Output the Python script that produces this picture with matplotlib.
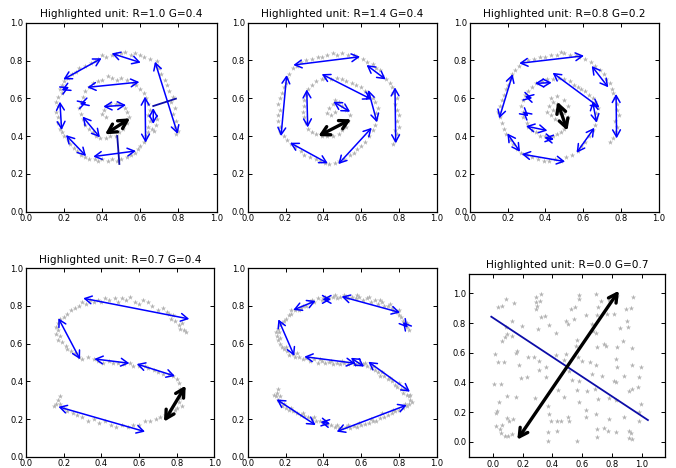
import matplotlib
matplotlib.use("Agg")
import matplotlib.pyplot as plt
from matplotlib.patches import FancyArrowPatch

W, H = 676, 468

titles = ["Highlighted unit: R=1.0 G=0.4", "Highlighted unit: R=1.4 G=0.4",
          "Highlighted unit: R=0.8 G=0.2", "Highlighted unit: R=0.7 G=0.4",
          "", "Highlighted unit: R=0.0 G=0.7"]

# ---------------- panel 1 (spiral) ----------------
p1_pts = [(0.79,0.41),(0.80,0.43),(0.78,0.45),(0.79,0.48),(0.77,0.52),(0.78,0.55),(0.76,0.58),(0.77,0.61),
 (0.75,0.64),(0.74,0.67),(0.73,0.70),(0.71,0.73),(0.70,0.76),(0.68,0.78),(0.69,0.80),(0.65,0.81),(0.62,0.82),
 (0.60,0.83),(0.57,0.84),(0.55,0.83),(0.52,0.845),(0.50,0.84),(0.47,0.835),(0.45,0.83),(0.42,0.82),(0.40,0.83),
 (0.38,0.81),(0.36,0.80),(0.34,0.79),(0.31,0.77),(0.28,0.76),(0.26,0.74),(0.24,0.73),(0.22,0.71),(0.20,0.69),
 (0.19,0.67),(0.18,0.65),(0.19,0.63),(0.17,0.61),(0.16,0.58),(0.17,0.56),(0.16,0.53),(0.17,0.50),(0.17,0.47),
 (0.18,0.44),(0.19,0.42),(0.20,0.40),(0.22,0.38),(0.23,0.36),(0.25,0.34),(0.27,0.32),(0.29,0.30),(0.31,0.29),
 (0.33,0.28),(0.36,0.28),(0.38,0.27),(0.40,0.28),(0.43,0.27),(0.45,0.28),(0.48,0.27),(0.50,0.28),(0.53,0.29),
 (0.55,0.30),(0.57,0.31),(0.59,0.33),(0.60,0.35),(0.62,0.37),(0.63,0.40),(0.64,0.42),(0.64,0.45),(0.65,0.48),
 (0.64,0.51),(0.65,0.54),(0.64,0.57),(0.63,0.60),(0.62,0.63),(0.60,0.65),(0.58,0.67),(0.56,0.68),(0.53,0.70),
 (0.50,0.71),(0.48,0.70),(0.45,0.71),(0.43,0.72),(0.40,0.70),(0.38,0.69),(0.35,0.68),(0.33,0.66),(0.31,0.64),
 (0.30,0.61),(0.29,0.58),(0.28,0.55),(0.29,0.52),(0.30,0.49),(0.31,0.46),(0.33,0.44),(0.35,0.42),(0.37,0.40),
 (0.39,0.39),(0.42,0.39),(0.44,0.40),(0.47,0.40),(0.49,0.42),(0.51,0.44),(0.53,0.47),(0.54,0.50),(0.53,0.53),
 (0.52,0.55),(0.49,0.57),(0.47,0.57),(0.44,0.57),(0.42,0.56),(0.41,0.54),(0.40,0.52),(0.42,0.50),(0.67,0.43),
 (0.68,0.46),(0.69,0.49),(0.66,0.44)]
p1_arrows = [(0.196,0.701,0.397,0.813),(0.450,0.839,0.602,0.790),(0.677,0.795,0.796,0.412),
 (0.322,0.659,0.595,0.687),(0.187,0.643,0.226,0.661),(0.283,0.569,0.318,0.580),(0.178,0.583,0.187,0.433),
 (0.406,0.557,0.525,0.565),(0.297,0.504,0.388,0.394),(0.625,0.610,0.628,0.366),(0.668,0.549,0.668,0.465),
 (0.353,0.292,0.577,0.322),(0.210,0.406,0.315,0.295)]
p1_lines = [(0.668,0.560,0.787,0.599),(0.479,0.401,0.490,0.253)]
p1_black = (0.415,0.410,0.546,0.495)

# ---------------- panel 2 (spiral) ----------------
p2_pts = [(0.77,0.36),(0.78,0.38),(0.79,0.41),(0.78,0.43),(0.80,0.45),(0.79,0.48),(0.80,0.51),(0.79,0.54),
 (0.78,0.57),(0.79,0.60),(0.77,0.63),(0.76,0.66),(0.75,0.68),(0.73,0.70),(0.71,0.72),(0.70,0.75),(0.68,0.76),
 (0.66,0.78),(0.63,0.79),(0.61,0.81),(0.58,0.82),(0.56,0.83),(0.53,0.83),(0.50,0.84),(0.47,0.83),(0.45,0.84),
 (0.42,0.83),(0.39,0.82),(0.37,0.82),(0.34,0.81),(0.31,0.80),(0.28,0.79),(0.26,0.77),(0.24,0.76),(0.22,0.73),
 (0.21,0.71),(0.20,0.68),(0.19,0.66),(0.18,0.63),(0.17,0.60),(0.16,0.57),(0.17,0.54),(0.16,0.51),(0.16,0.48),
 (0.17,0.45),(0.17,0.42),(0.19,0.40),(0.21,0.38),(0.23,0.36),(0.25,0.34),(0.28,0.32),(0.30,0.30),(0.33,0.29),
 (0.36,0.28),(0.38,0.27),(0.41,0.26),(0.43,0.25),(0.46,0.26),(0.48,0.27),(0.51,0.28),(0.54,0.30),(0.56,0.31),
 (0.58,0.33),(0.60,0.35),(0.62,0.37),(0.64,0.40),(0.66,0.43),(0.67,0.46),(0.68,0.49),(0.68,0.52),(0.69,0.55),
 (0.67,0.58),(0.66,0.60),(0.64,0.62),(0.62,0.64),(0.60,0.66),(0.57,0.67),(0.55,0.68),(0.52,0.69),(0.50,0.70),
 (0.47,0.71),(0.44,0.70),(0.41,0.71),(0.39,0.70),(0.36,0.69),(0.34,0.67),(0.32,0.65),(0.31,0.62),(0.30,0.59),
 (0.30,0.56),(0.29,0.53),(0.30,0.50),(0.31,0.47),(0.32,0.44),(0.34,0.42),(0.36,0.41),(0.39,0.40),(0.42,0.40),
 (0.45,0.40),(0.48,0.41),(0.50,0.43),(0.52,0.45),(0.53,0.48),(0.54,0.51),(0.52,0.54),(0.50,0.56),(0.48,0.58),
 (0.46,0.59),(0.45,0.57),(0.43,0.55),(0.42,0.52),(0.44,0.51),(0.46,0.53)]
p2_arrows = [(0.241,0.776,0.593,0.820),(0.628,0.776,0.729,0.700),(0.778,0.658,0.782,0.362),
 (0.206,0.723,0.176,0.400),(0.312,0.647,0.317,0.446),(0.391,0.728,0.655,0.594),(0.637,0.644,0.683,0.473),
 (0.453,0.582,0.541,0.529),(0.224,0.365,0.423,0.256),(0.479,0.252,0.655,0.444)]
p2_lines = []
p2_black = (0.373,0.400,0.546,0.489)

# ---------------- panel 3 (spiral) ----------------
p3_pts = [(0.74,0.37),(0.76,0.39),(0.77,0.42),(0.78,0.45),(0.77,0.48),(0.79,0.51),(0.78,0.54),(0.78,0.57),
 (0.77,0.60),(0.76,0.63),(0.75,0.65),(0.74,0.68),(0.72,0.70),(0.71,0.73),(0.69,0.75),(0.66,0.77),(0.64,0.79),
 (0.61,0.81),(0.58,0.82),(0.56,0.83),(0.53,0.83),(0.50,0.84),(0.48,0.845),(0.46,0.83),(0.43,0.83),(0.40,0.82),
 (0.37,0.82),(0.34,0.81),(0.31,0.80),(0.28,0.79),(0.26,0.77),(0.24,0.75),(0.22,0.73),(0.21,0.70),(0.20,0.67),
 (0.19,0.65),(0.18,0.62),(0.17,0.59),(0.16,0.56),(0.15,0.53),(0.16,0.50),(0.17,0.47),(0.18,0.44),(0.19,0.41),
 (0.21,0.38),(0.23,0.36),(0.25,0.33),(0.27,0.31),(0.30,0.30),(0.33,0.29),(0.36,0.28),(0.39,0.27),(0.42,0.27),
 (0.45,0.28),(0.48,0.27),(0.51,0.29),(0.54,0.30),(0.57,0.32),(0.59,0.35),(0.61,0.37),(0.63,0.40),(0.65,0.43),
 (0.66,0.46),(0.67,0.49),(0.67,0.52),(0.68,0.55),(0.66,0.58),(0.65,0.60),(0.63,0.62),(0.61,0.64),(0.59,0.65),
 (0.57,0.66),(0.55,0.67),(0.53,0.69),(0.50,0.70),(0.47,0.71),(0.44,0.70),(0.41,0.70),(0.38,0.69),(0.35,0.68),
 (0.33,0.66),(0.31,0.64),(0.29,0.62),(0.28,0.59),(0.27,0.56),(0.28,0.53),(0.28,0.50),(0.30,0.47),(0.31,0.45),
 (0.33,0.43),(0.35,0.42),(0.37,0.40),(0.40,0.40),(0.42,0.39),(0.44,0.40),(0.46,0.41),(0.48,0.42),(0.50,0.44),
 (0.51,0.47),(0.52,0.50),(0.50,0.52),(0.48,0.55),(0.46,0.57),(0.44,0.58),(0.42,0.56),(0.41,0.53),(0.43,0.51),
 (0.45,0.49),(0.44,0.54),(0.47,0.52),(0.43,0.60),(0.46,0.61),(0.52,0.56),(0.50,0.59)]
p3_arrows = [(0.261,0.785,0.604,0.825),(0.645,0.771,0.733,0.658),(0.774,0.623,0.777,0.388),
 (0.226,0.728,0.155,0.494),(0.438,0.735,0.686,0.552),(0.650,0.582,0.671,0.471),(0.659,0.444,0.565,0.312),
 (0.345,0.679,0.433,0.683),(0.290,0.610,0.330,0.600),(0.280,0.530,0.310,0.505),(0.297,0.453,0.410,0.429),
 (0.394,0.392,0.445,0.383),(0.198,0.414,0.265,0.317),(0.274,0.305,0.504,0.265)]
p3_lines = []
p3_black = (0.463,0.582,0.516,0.429)

# ---------------- panel 4 (S shape) ----------------
p4_pts = [(0.28,0.80),(0.30,0.82),(0.32,0.81),(0.34,0.83),(0.36,0.82),(0.38,0.83),(0.40,0.82),(0.42,0.84),
 (0.44,0.83),(0.47,0.84),(0.49,0.82),(0.51,0.84),(0.53,0.83),(0.55,0.85),(0.58,0.82),(0.60,0.81),(0.62,0.83),
 (0.65,0.82),(0.67,0.80),(0.70,0.78),(0.73,0.79),(0.75,0.77),(0.76,0.76),(0.78,0.75),(0.77,0.73),(0.79,0.72),
 (0.81,0.70),(0.82,0.68),(0.84,0.67),(0.85,0.66),(0.83,0.71),(0.26,0.79),(0.24,0.78),(0.22,0.76),(0.20,0.74),
 (0.18,0.73),(0.17,0.71),(0.16,0.69),(0.17,0.67),(0.16,0.65),(0.18,0.64),(0.17,0.62),(0.19,0.61),(0.21,0.59),
 (0.22,0.57),(0.24,0.56),(0.26,0.55),(0.28,0.53),(0.30,0.52),(0.33,0.53),(0.36,0.52),(0.38,0.51),(0.41,0.50),
 (0.44,0.51),(0.46,0.50),(0.49,0.50),(0.52,0.49),(0.55,0.50),(0.57,0.48),(0.60,0.48),(0.63,0.48),(0.65,0.47),
 (0.68,0.46),(0.70,0.45),(0.73,0.44),(0.76,0.44),(0.78,0.43),(0.80,0.41),(0.81,0.39),(0.82,0.36),(0.83,0.33),
 (0.82,0.31),(0.81,0.29),(0.83,0.27),(0.80,0.26),(0.79,0.25),(0.77,0.23),(0.74,0.22),(0.71,0.21),(0.69,0.20),
 (0.66,0.19),(0.63,0.19),(0.60,0.17),(0.57,0.17),(0.54,0.16),(0.51,0.17),(0.48,0.16),(0.45,0.17),(0.42,0.19),
 (0.39,0.18),(0.36,0.20),(0.33,0.19),(0.30,0.21),(0.27,0.22),(0.25,0.23),(0.22,0.24),(0.20,0.26),(0.18,0.28),
 (0.16,0.28),(0.17,0.30),(0.18,0.32),(0.15,0.27)]
p4_arrows = [(0.304,0.841,0.867,0.731),(0.172,0.735,0.287,0.517),(0.363,0.519,0.549,0.496),
 (0.588,0.492,0.791,0.428),(0.172,0.265,0.632,0.133)]
p4_lines = []
p4_black = (0.733,0.186,0.848,0.377)

# ---------------- panel 5 (dense S) ----------------
p5_pts = [(0.85,0.67),(0.84,0.69),(0.83,0.70),(0.82,0.72),(0.81,0.74),(0.80,0.75),(0.79,0.77),(0.77,0.78),
 (0.76,0.79),(0.74,0.80),(0.72,0.80),(0.71,0.82),(0.69,0.81),(0.67,0.83),(0.65,0.82),(0.63,0.84),(0.61,0.83),
 (0.59,0.85),(0.57,0.84),(0.55,0.85),(0.53,0.84),(0.51,0.86),(0.49,0.85),(0.47,0.84),(0.45,0.85),(0.43,0.84),
 (0.41,0.85),(0.39,0.83),(0.37,0.84),(0.35,0.82),(0.33,0.82),(0.31,0.80),(0.29,0.80),(0.27,0.78),(0.25,0.78),
 (0.23,0.76),(0.22,0.75),(0.20,0.73),(0.19,0.72),(0.17,0.70),(0.16,0.68),(0.15,0.66),(0.155,0.64),(0.16,0.62),
 (0.17,0.60),(0.18,0.58),(0.19,0.57),(0.21,0.56),(0.22,0.54),(0.24,0.545),(0.25,0.53),(0.27,0.53),(0.29,0.52),
 (0.31,0.525),(0.33,0.51),(0.35,0.52),(0.37,0.50),(0.39,0.51),(0.41,0.50),(0.43,0.505),(0.45,0.49),(0.47,0.50),
 (0.49,0.49),(0.51,0.50),(0.53,0.49),(0.55,0.505),(0.57,0.49),(0.59,0.50),(0.61,0.49),(0.63,0.48),(0.65,0.47),
 (0.67,0.46),(0.69,0.45),(0.70,0.43),(0.72,0.43),(0.74,0.41),(0.76,0.40),(0.78,0.38),(0.79,0.37),(0.81,0.36),
 (0.82,0.34),(0.84,0.33),(0.85,0.32),(0.86,0.30),(0.85,0.28),(0.84,0.27),(0.82,0.26),(0.80,0.25),(0.78,0.24),
 (0.76,0.23),(0.74,0.22),(0.72,0.21),(0.70,0.205),(0.68,0.19),(0.66,0.19),(0.64,0.18),(0.62,0.175),(0.60,0.17),
 (0.58,0.16),(0.56,0.165),(0.54,0.15),(0.52,0.16),(0.50,0.15),(0.48,0.15),(0.46,0.16),(0.44,0.17),(0.42,0.175),
 (0.40,0.18),(0.38,0.19),(0.36,0.19),(0.34,0.20),(0.32,0.21),(0.30,0.215),(0.28,0.22),(0.26,0.23),(0.24,0.24),
 (0.22,0.25),(0.20,0.26),(0.18,0.27),(0.17,0.29),(0.16,0.30),(0.15,0.32),(0.155,0.34),(0.16,0.36),
 (0.84,0.71),(0.80,0.78),(0.75,0.81),(0.70,0.83),(0.64,0.85),(0.58,0.86),(0.52,0.85),(0.46,0.86),(0.40,0.84),
 (0.34,0.83),(0.28,0.79),(0.23,0.78),(0.18,0.71),(0.165,0.66),(0.17,0.63),(0.20,0.58),(0.26,0.55),(0.32,0.53),
 (0.38,0.52),(0.44,0.51),(0.50,0.51),(0.56,0.49),(0.62,0.50),(0.66,0.48),(0.71,0.45),(0.75,0.42),(0.80,0.39),
 (0.83,0.36),(0.86,0.33),(0.87,0.29),(0.83,0.28),(0.77,0.25),(0.71,0.23),(0.65,0.20),(0.59,0.18),(0.53,0.17),
 (0.47,0.17),(0.41,0.19),(0.35,0.21),(0.29,0.23),(0.23,0.26),(0.19,0.28),(0.17,0.32),(0.14,0.33)]
p5_arrows = [(0.241,0.779,0.359,0.827),(0.395,0.835,0.440,0.835),(0.496,0.850,0.805,0.765),
 (0.820,0.715,0.845,0.685),(0.162,0.729,0.246,0.535),(0.299,0.531,0.567,0.496),(0.545,0.525,0.615,0.478),
 (0.637,0.504,0.857,0.345),(0.153,0.304,0.359,0.168),(0.385,0.185,0.435,0.175),(0.470,0.133,0.840,0.274)]
p5_lines = []
p5_black = None

# ---------------- panel 6 (uniform cloud) ----------------
p6_pts = [(0.085,0.962),(0.036,0.906),(0.063,0.917),(0.141,0.933),(0.287,0.973),(0.287,0.939),(0.298,0.917),
 (0.314,0.951),(0.291,0.894),(0.578,0.991),(0.578,0.962),(0.552,0.906),(0.522,0.894),(0.691,0.996),(0.709,0.906),
 (0.724,0.951),(0.780,0.955),(0.836,0.984),(0.944,0.973),(0.897,0.894),(0.926,0.901),(0.769,0.861),(0.814,0.861),
 (0.321,0.843),(0.350,0.849),(0.489,0.816),(0.507,0.793),(0.545,0.827),(0.628,0.856),(0.702,0.856),(0.668,0.793),
 (0.904,0.816),(0.910,0.771),(0.126,0.811),(0.090,0.771),(0.193,0.782),(0.081,0.703),(0.063,0.681),(0.096,0.726),
 (0.130,0.715),(0.305,0.760),(0.377,0.789),(0.422,0.730),(0.691,0.730),(0.673,0.748),(0.852,0.766),(0.567,0.685),
 (0.556,0.647),(0.697,0.640),(0.747,0.658),(0.762,0.647),(0.836,0.636),(0.874,0.681),(0.933,0.631),(0.013,0.591),
 (0.036,0.535),(0.072,0.539),(0.164,0.609),(0.152,0.596),(0.238,0.573),(0.276,0.569),(0.309,0.542),(0.426,0.587),
 (0.478,0.551),(0.489,0.591),(0.574,0.569),(0.601,0.542),(0.650,0.535),(0.691,0.519),(0.825,0.557),(0.836,0.506),
 (0.937,0.519),(0.993,0.501),(0.175,0.519),(0.309,0.483),(0.354,0.501),(0.511,0.479),(0.534,0.416),(0.578,0.411),
 (0.668,0.456),(0.735,0.445),(0.814,0.411),(0.825,0.400),(0.881,0.445),(0.982,0.434),(0.186,0.429),(0.231,0.434),
 (0.007,0.389),(0.052,0.389),(0.354,0.438),(0.439,0.348),(0.567,0.348),(0.635,0.344),(0.684,0.355),(0.915,0.344),
 (0.937,0.355),(0.978,0.366),(0.096,0.310),(0.152,0.299),(0.283,0.294),(0.478,0.299),(0.578,0.265),(0.709,0.288),
 (0.780,0.294),(0.825,0.281),(0.040,0.265),(0.029,0.209),(0.018,0.191),(0.096,0.160),(0.108,0.142),(0.018,0.108),
 (0.063,0.115),(0.047,0.085),(0.135,0.153),(0.372,0.243),(0.377,0.187),(0.388,0.142),(0.433,0.142),(0.455,0.142),
 (0.507,0.169),(0.511,0.142),(0.623,0.213),(0.628,0.164),(0.691,0.187),(0.780,0.153),(0.881,0.169),(0.982,0.198),
 (0.993,0.254),(0.982,0.142),(0.052,0.056),(0.081,0.040),(0.103,0.040),(0.130,0.052),(0.209,0.070),(0.372,0.063),
 (0.433,0.070),(0.702,0.085),(0.702,0.034),(0.747,0.092),(0.776,0.074),(0.825,0.063),(0.915,0.074),(0.930,0.056),
 (0.915,0.025),(0.937,0.018),(0.370,0.002),(0.563,0.002),(0.321,0.996)]
p6_arrows = []
p6_lines = [(-0.011,0.843,1.042,0.146)]
p6_black = (0.164,0.014,0.847,1.018)

panels = [(p1_pts, p1_arrows, p1_lines, p1_black), (p2_pts, p2_arrows, p2_lines, p2_black),
          (p3_pts, p3_arrows, p3_lines, p3_black), (p4_pts, p4_arrows, p4_lines, p4_black),
          (p5_pts, p5_arrows, p5_lines, p5_black), (p6_pts, p6_arrows, p6_lines, p6_black)]

# axes boxes in pixels: left, top, right, bottom
boxes = [(26, 23, 216.5, 211.7), (247.7, 22.7, 437, 211.7), (470, 22.7, 658.7, 211.7),
         (26, 268.3, 214.3, 456.7), (247.7, 268.3, 437, 456.7), (469, 274, 665, 457)]
limits = [((0, 1), (0, 1))] * 5 + [((-0.161, 1.157), (-0.103, 1.131))]

fig = plt.figure(figsize=(W / 100, H / 100), dpi=100)

def add_arrow(ax, seg, color, lw, hl, hw):
    x0, y0, x1, y1 = seg
    ax.add_patch(FancyArrowPatch((x0, y0), (x1, y1),
                                 arrowstyle=f"<->,head_length={hl},head_width={hw}",
                                 mutation_scale=1, color=color, lw=lw,
                                 shrinkA=0, shrinkB=0, zorder=3))

for i, (pts, arrows, lines, black) in enumerate(panels):
    l, t, r, b = boxes[i]
    ax = fig.add_axes([l / W, (H - b) / H, (r - l) / W, (b - t) / H])
    xs = [p[0] for p in pts]
    ys = [p[1] for p in pts]
    ax.scatter(xs, ys, marker="*", s=16, color="#b2b2b2", linewidths=0, zorder=1)
    for seg in lines:
        ax.plot([seg[0], seg[2]], [seg[1], seg[3]], color="#0c0ca8", lw=1.3, zorder=2)
    for seg in arrows:
        add_arrow(ax, seg, "#0000ff", 1.1, 5.0, 2.8)
    if black is not None:
        add_arrow(ax, black, "black", 2.4, 6.0, 3.3)
    (x0, x1), (y0, y1) = limits[i]
    ax.set_xlim(x0, x1)
    ax.set_ylim(y0, y1)
    ax.set_xticks([0, 0.2, 0.4, 0.6, 0.8, 1.0])
    ax.set_yticks([0, 0.2, 0.4, 0.6, 0.8, 1.0])
    ax.set_xticklabels(["0.0", "0.2", "0.4", "0.6", "0.8", "1.0"])
    ax.set_yticklabels(["0.0", "0.2", "0.4", "0.6", "0.8", "1.0"])
    ax.tick_params(direction="in", top=True, right=True, length=3, width=0.7,
                   labelsize=6, pad=2, colors="black")
    for s in ax.spines.values():
        s.set_linewidth(0.9)
    if titles[i]:
        ax.set_title(titles[i], fontsize=7.6, pad=4)

fig.savefig("out.png", dpi=100)
